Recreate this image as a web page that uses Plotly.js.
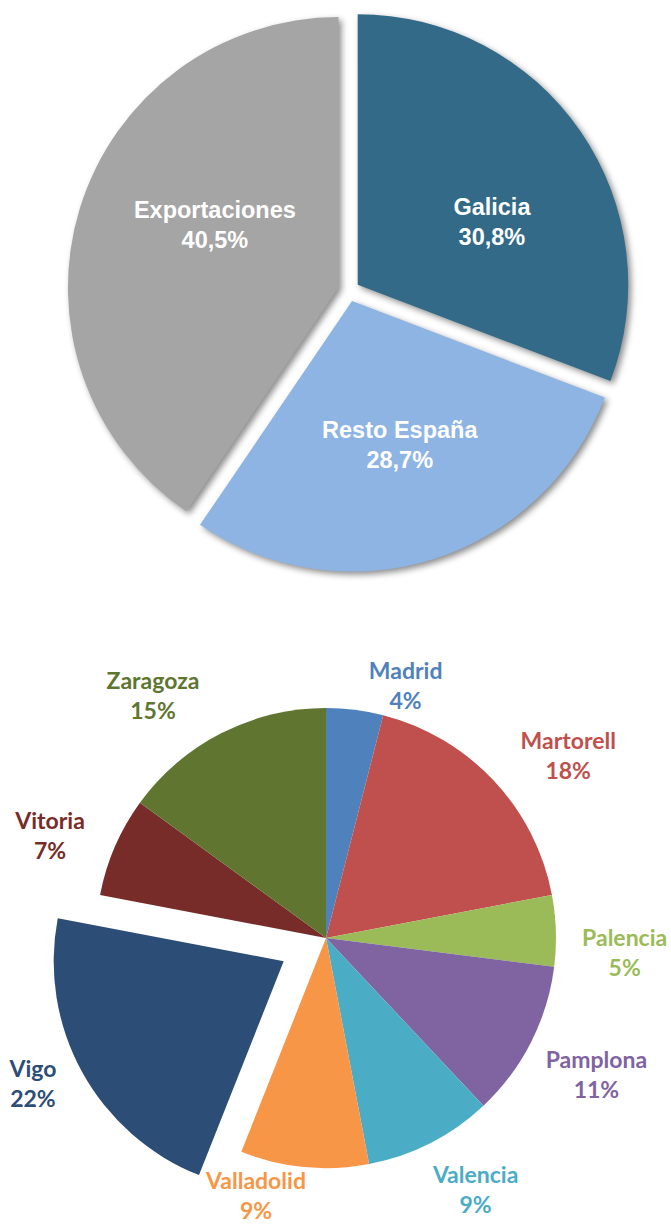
<!DOCTYPE html>
<html>
<head>
<meta charset="utf-8">
<script src="https://cdn.plot.ly/plotly-3.0.1.min.js"></script>
<style>
  html, body { margin: 0; padding: 0; background: #ffffff; }
  #chart { width: 671px; height: 1227px; }
  .pielayer .trace:nth-child(1) path.surface { filter: drop-shadow(3px 3px 3px rgba(0,0,0,0.45)); }
</style>
</head>
<body>
<div id="chart"></div>
<script>
// ---- Top pie data ----
const destLabels = ["Galicia", "Resto España", "Exportaciones"];
const destValues = [30.8, 28.7, 40.5];
const destColors = ["#326A88", "#8EB4E3", "#A5A5A5"];

// ---- Bottom pie data ----
const plantLabels = ["Madrid", "Martorell", "Palencia", "Pamplona", "Valencia", "Valladolid", "Vigo", "Vitoria", "Zaragoza"];
const plantValues = [4, 18, 5, 11, 9, 9, 22, 7, 15];
const plantColors = ["#4F81BD", "#C0504D", "#9BBB59", "#8064A2", "#4BACC6", "#F79646", "#2C4D75", "#772C2A", "#5F7530"];
const pulledPlant = "Vigo";

const W = 671, H = 1227;
const CX1 = 348.8, CY1 = 290.8, R1 = 270.5, PULL1 = 0.04;
const CX2 = 326, CY2 = 938, R2 = 230, PULL2 = 0.21;

function dom(cx, cy, half) {
  return { x: [(cx - half) / W, (cx + half) / W], y: [1 - (cy + half) / H, 1 - (cy - half) / H] };
}
const clear = n => Array.from({ length: n }, () => "rgba(0,0,0,0)");

const insideFont = { family: "Liberation Sans, Arial, sans-serif", size: 23.5, color: "#ffffff", weight: "bold" };
const labelFont = { family: "Lato, Carlito, Calibri, sans-serif", size: 23, color: plantColors, weight: "bold" };

function basePie(labels, values) {
  return {
    type: "pie", labels: labels, values: values, sort: false,
    direction: "clockwise", rotation: 0, hoverinfo: "skip", showlegend: false,
    textinfo: "label+percent"
  };
}

// visible top pie (slices only)
const topPie = Object.assign(basePie(destLabels, destValues), {
  pull: destLabels.map(() => PULL1),
  marker: { colors: destColors, line: { width: 0 } },
  textposition: "none",
  domain: dom(CX1, CY1, R1 * (1 + PULL1))
});
// transparent helpers carrying the inside labels of the top pie
function topLabels(rotation, shown) {
  return Object.assign(basePie(destLabels, destValues), {
    rotation: rotation,
    pull: destLabels.map(() => PULL1),
    marker: { colors: clear(destLabels.length), line: { width: 0 } },
    textposition: destLabels.map(l => shown.includes(l) ? "inside" : "none"),
    insidetextorientation: "horizontal",
    insidetextfont: insideFont,
    domain: dom(CX1, CY1, R1 * (1 + PULL1))
  });
}
const topLabelsA = topLabels(9, ["Galicia", "Exportaciones"]);
const topLabelsB = topLabels(-1, ["Resto España"]);

// visible bottom pie (slices only)
const bottomPie = Object.assign(basePie(plantLabels, plantValues), {
  pull: plantLabels.map(l => l === pulledPlant ? PULL2 : 0),
  marker: { colors: plantColors, line: { width: 0 } },
  textposition: "none",
  domain: dom(CX2, CY2, R2 * (1 + PULL2))
});
// transparent helpers carrying the outside labels of the bottom pie
function bottomLabels(radius, rotation, shown, pull) {
  const p = pull || 0;
  return Object.assign(basePie(plantLabels, plantValues), {
    rotation: rotation,
    pull: p ? plantLabels.map(l => shown.includes(l) ? p : 0) : 0,
    marker: { colors: clear(plantLabels.length), line: { width: 0 } },
    textposition: plantLabels.map(l => shown.includes(l) ? "outside" : "none"),
    outsidetextfont: labelFont,
    domain: dom(CX2, CY2, radius * (1 + p))
  });
}
const labelsFar = bottomLabels(247, 0, ["Martorell", "Vitoria", "Zaragoza"]);
const labelsRight = bottomLabels(242, 5, ["Palencia", "Pamplona"]);
const labelsLow = bottomLabels(244, 5, ["Valencia"]);
const labelsNear = bottomLabels(226, 0, ["Madrid"]);
const labelsBottom = bottomLabels(228, -4, ["Valladolid"]);
const labelsPulled = bottomLabels(R2, 0, [pulledPlant], 0.275);

const layout = {
  width: W,
  height: H,
  margin: { l: 0, r: 0, t: 0, b: 0 },
  paper_bgcolor: "#ffffff",
  plot_bgcolor: "#ffffff",
  separators: ",.",
  showlegend: false
};

Plotly.newPlot("chart",
  [topPie, bottomPie, topLabelsA, topLabelsB, labelsFar, labelsRight, labelsLow, labelsNear, labelsBottom, labelsPulled],
  layout, { displayModeBar: false, staticPlot: true });
</script>
</body>
</html>
